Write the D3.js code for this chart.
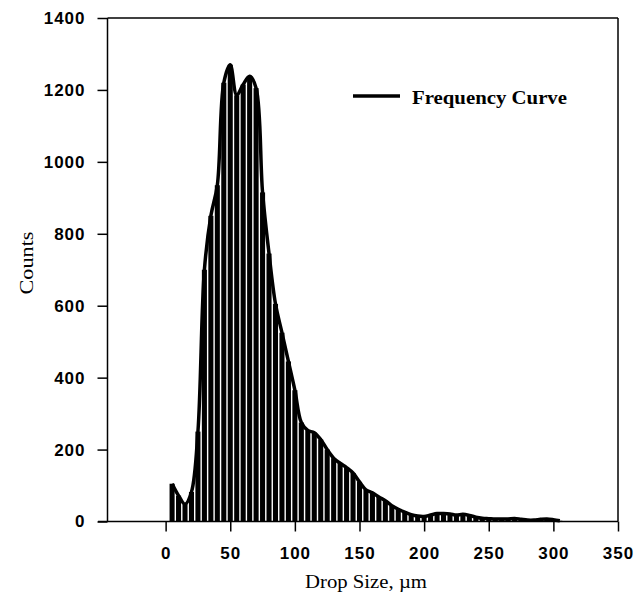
<!DOCTYPE html>
<html>
<head>
<meta charset="utf-8">
<script src="https://cdn.jsdelivr.net/npm/d3@7"></script>
<style>
  body { margin: 0; background: #fff; }
  svg { display: block; }
</style>
</head>
<body>
<div id="chart"></div>
<script>
// bin centres (µm) and counts
const binCentres = [5, 10, 15, 20, 25, 30, 35, 40, 45, 50, 55, 60, 65, 70, 75, 80, 85, 90, 95, 100,
  105, 110, 115, 120, 125, 130, 135, 140, 145, 150, 155, 160, 165, 170, 175, 180, 185, 190, 195, 200,
  205, 210, 215, 220, 225, 230, 235, 240, 245, 250, 255, 260, 265, 270, 275, 280, 285, 290, 295, 300, 305];
const counts = [105, 72, 48, 82, 250, 700, 850, 935, 1220, 1270, 1185, 1215, 1238, 1205, 915, 745, 605, 525, 445, 365,
  275, 253, 247, 228, 200, 176, 162, 150, 135, 110, 88, 80, 68, 58, 44, 34, 26, 19, 15, 14,
  18, 22, 22, 21, 18, 20, 17, 12, 9, 8, 7, 7, 7, 8, 6, 4, 4, 6, 7, 5, 2];
const xTicks = [0, 50, 100, 150, 200, 250, 300, 350];
const yTicks = [0, 200, 400, 600, 800, 1000, 1200, 1400];
const binWidth = 5;

const width = 639, height = 603;
const svg = d3.select("#chart").append("svg")
    .attr("width", width)
    .attr("height", height);

const x = d3.scaleLinear().domain([-50, 350]).range([101, 618]);
const y = d3.scaleLinear().domain([0, 1400]).range([521.5, 18]);
const yAxisX = 107.5;

const data = binCentres.map((c, i) => ({c: c, v: counts[i]}));

// bars
svg.append("g")
    .selectAll("rect")
    .data(data)
    .enter()
    .append("rect")
    .attr("x", d => x(d.c - binWidth / 2) + 0.7)
    .attr("width", x(binWidth) - x(0) - 1.4)
    .attr("y", d => y(d.v))
    .attr("height", d => y(0) - y(d.v))
    .attr("fill", "#000");

// frequency curve
const line = d3.line()
    .x(d => x(d.c))
    .y(d => y(d.v))
    .curve(d3.curveCatmullRom.alpha(0.5));

svg.append("path")
    .datum(data)
    .attr("d", line)
    .attr("fill", "none")
    .attr("stroke", "#000")
    .attr("stroke-width", 3.5)
    .attr("stroke-linejoin", "round");

// frame
svg.append("line")
    .attr("x1", yAxisX).attr("x2", x(350))
    .attr("y1", y(1400)).attr("y2", y(1400))
    .attr("stroke", "#000").attr("stroke-width", 1.5);
svg.append("line")
    .attr("x1", x(350)).attr("x2", x(350))
    .attr("y1", y(1400)).attr("y2", y(0))
    .attr("stroke", "#000").attr("stroke-width", 1.5);

// x axis
const xAxis = svg.append("g")
    .attr("transform", `translate(0,${y(0)})`)
    .call(d3.axisBottom(x).tickValues(xTicks).tickSize(10).tickPadding(15).tickFormat(d3.format("d")));
xAxis.select(".domain").attr("d", `M${x(-50) - 3},0H${x(350)}`).attr("stroke-width", 1.5);
xAxis.selectAll(".tick line").attr("stroke-width", 1.5);

// y axis
const yAxis = svg.append("g")
    .attr("transform", `translate(${yAxisX},0)`)
    .call(d3.axisLeft(y).tickValues(yTicks).tickSize(10).tickPadding(12).tickFormat(d3.format("d")));
yAxis.select(".domain").attr("d", `M0,${y(1400)}V${y(0)}`).attr("stroke-width", 1.5);
yAxis.selectAll(".tick line").attr("stroke-width", 1.5);

svg.selectAll(".tick text")
    .style("font-family", "'Liberation Sans', Arial, sans-serif")
    .style("font-size", "17px")
    .style("font-weight", "bold")
    .style("letter-spacing", "1px")
    .attr("fill", "#000");

// axis titles
svg.append("text")
    .attr("x", 366)
    .attr("y", 588)
    .attr("text-anchor", "middle")
    .attr("textLength", 122)
    .attr("lengthAdjust", "spacingAndGlyphs")
    .style("font-family", "'Liberation Serif', 'Times New Roman', serif")
    .style("font-size", "19px")
    .text("Drop Size, µm");

svg.append("text")
    .attr("transform", "translate(33,263) rotate(-90)")
    .attr("text-anchor", "middle")
    .attr("textLength", 63)
    .attr("lengthAdjust", "spacingAndGlyphs")
    .style("font-family", "'Liberation Serif', 'Times New Roman', serif")
    .style("font-size", "19px")
    .text("Counts");

// legend
const legend = svg.append("g");
legend.append("line")
    .attr("x1", 353).attr("x2", 400)
    .attr("y1", 96).attr("y2", 96)
    .attr("stroke", "#000").attr("stroke-width", 3.5);
legend.append("text")
    .attr("x", 412)
    .attr("y", 104)
    .attr("textLength", 155)
    .attr("lengthAdjust", "spacingAndGlyphs")
    .style("font-family", "'Liberation Serif', 'Times New Roman', serif")
    .style("font-size", "19px")
    .style("font-weight", "bold")
    .text("Frequency Curve");
</script>
</body>
</html>
